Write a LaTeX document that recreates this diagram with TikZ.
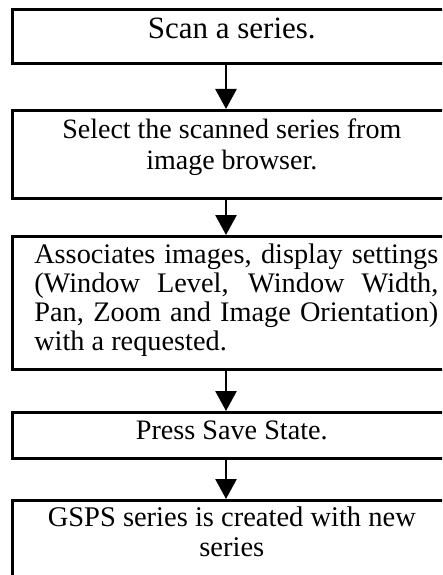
\documentclass[tikz,border=0pt]{standalone}
\usepackage{fontspec}
\setmainfont{Liberation Serif}
\usetikzlibrary{arrows.meta}
\tikzset{
  flowbox/.style={draw, line width=2.6pt, inner sep=0pt, anchor=north west},
  flowarrow/.style={line width=2.6pt, -{Triangle[width=21pt,length=20pt]}},
}
\hyphenpenalty=10000
\tolerance=10000
\begin{document}
\begin{tikzpicture}[x=1pt,y=1pt]
\useasboundingbox (0,0) rectangle (442,-575);
\clip (0,0) rectangle (442,-575);
\coordinate (ax) at (226,0);
\node[flowbox] (b1) at (11,-8) {\parbox[c][54pt][t]{439pt}{\centering\fontsize{31}{34}\selectfont\rule{0pt}{29pt}Scan a series.}};
\node[flowbox] (b2) at (11,-109) {\parbox[c][88pt][t]{439pt}{\centering\fontsize{28}{31}\selectfont\rule{0pt}{28pt}Select the scanned series from\\ image browser.}};
\node[flowbox] (b3) at (11,-235) {\parbox[c][133pt][t]{439pt}{\hspace*{22pt}\parbox[t]{404pt}{\fontsize{28.3}{29}\selectfont\rule{0pt}{27pt}Associates images, display settings\linebreak (Window Level, Window Width,\linebreak Pan, Zoom and Image Orientation)\linebreak with a requested.}}};
\node[flowbox] (b4) at (11,-411) {\parbox[c][46pt][t]{439pt}{\centering\fontsize{28.2}{31}\selectfont\rule{0pt}{27pt}Press Save State.}};
\node[flowbox] (b5) at (11,-499) {\parbox[c][110pt][t]{439pt}{\centering\fontsize{28.5}{30}\selectfont\rule{0pt}{26pt}GSPS series is created with new\\ series}};
\draw[flowarrow] (b1.south -| ax) -- (b2.north -| ax);
\draw[flowarrow] (b2.south -| ax) -- (b3.north -| ax);
\draw[flowarrow] (b3.south -| ax) -- (b4.north -| ax);
\draw[flowarrow] (b4.south -| ax) -- (b5.north -| ax);
\end{tikzpicture}
\end{document}
